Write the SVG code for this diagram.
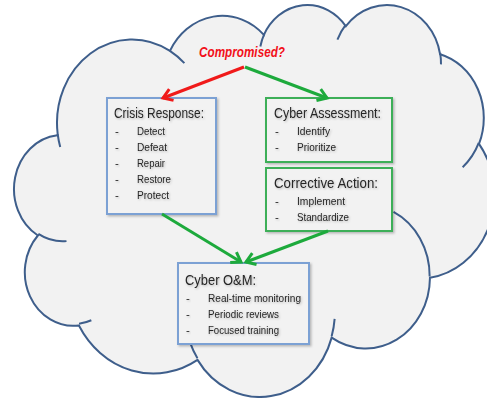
<svg xmlns="http://www.w3.org/2000/svg" width="487" height="398" viewBox="0 0 487 398">
  <defs>
    <style>
      .cloud { fill: #F2F2F2; stroke: #3E5E8B; stroke-width: 2; }
      .stub { fill: none; stroke: #3E5E8B; stroke-width: 2; }
      .box { fill: #F2F2F2; stroke-width: 2; filter: url(#boxShadow); }
      .blue { stroke: #7BA1D4; }
      .green { stroke: #3DAF58; }
      .title { font-family: "Liberation Sans", Arial, sans-serif; font-size: 15px; fill: #262626; filter: url(#txtShadow); }
      .item { font-family: "Liberation Sans", Arial, sans-serif; font-size: 11.5px; fill: #262626; filter: url(#txtShadow); }
      .q { font-family: "Liberation Sans", Arial, sans-serif; font-size: 15px; font-weight: bold; font-style: italic; fill: #F2101A; }
      .conn { fill: none; stroke-width: 3; }
    </style>
    <filter id="boxShadow" x="-10%" y="-10%" width="130%" height="130%">
      <feDropShadow dx="1.5" dy="1.5" stdDeviation="1.2" flood-color="#000" flood-opacity="0.25"/>
    </filter>
    <filter id="txtShadow" x="-10%" y="-30%" width="130%" height="180%">
      <feDropShadow dx="1" dy="1" stdDeviation="0.8" flood-color="#000" flood-opacity="0.25"/>
    </filter>
    <marker id="arrRed" markerUnits="userSpaceOnUse" markerWidth="16" markerHeight="16" viewBox="-12 -8 16 16" refX="0" refY="0" orient="auto" overflow="visible">
      <path d="M-9,-6 L0,0 L-9,6" fill="none" stroke="#F01A1A" stroke-width="3"/>
    </marker>
    <marker id="arrGreen" markerUnits="userSpaceOnUse" markerWidth="16" markerHeight="16" viewBox="-12 -8 16 16" refX="0" refY="0" orient="auto" overflow="visible">
      <path d="M-9,-6 L0,0 L-9,6" fill="none" stroke="#1DAA3C" stroke-width="3"/>
    </marker>
  </defs>

  <g id="cloud" transform="translate(14.36,3.7) scale(0.01111,0.00907)">
    <path class="cloud" vector-effect="non-scaling-stroke" d="M3900 14370 A6753 9190 0 0 1 14005 5202 A5333 7267 0 0 1 22460 3434 A4365 5945 0 0 1 29837 2483 A4857 6595 0 0 1 38322 5578 A5333 7273 0 0 1 41822 15462 A6775 9220 0 0 1 37408 30205 A5785 7867 0 0 1 28560 36816 A6752 9215 0 0 1 16486 39269 A7720 10543 0 0 1 5809 35476 A4360 5918 0 0 1 2116 25557 A4345 5945 0 0 1 3867 14514 Z"/>
    <path class="stub" vector-effect="non-scaling-stroke" d="M4693 26177 A4345 5945 0 0 1 2159 25380 M6928 34899 A4360 5918 0 0 1 5820 35280 M16478 39090 A6752 9215 0 0 1 15809 37346 M28827 34751 A6752 9215 0 0 1 28560 36660 M34129 22954 A5785 7867 0 0 1 37381 30090 M41798 15354 A5333 7273 0 0 1 40350 18030 M38324 5426 A4857 6595 0 0 1 38400 6690 M29078 3952 A4857 6595 0 0 1 29820 2340 M22141 4720 A4365 5945 0 0 1 22500 3330 M14000 5192 A6753 9190 0 0 1 15304 6546 M4127 15789 A6753 9190 0 0 1 3901 14372"/>
  </g>

  <g id="question">
    <text class="q" x="199" y="57" textLength="86" lengthAdjust="spacingAndGlyphs">Compromised?</text>
  </g>

  <g id="crisis-response">
    <rect class="box blue" x="107" y="98" width="109" height="116"/>
    <text class="title" x="114" y="118" textLength="90" lengthAdjust="spacingAndGlyphs">Crisis Response:</text>
    <text class="item" x="115" y="135">-</text>
    <text class="item" x="137" y="135" textLength="28" lengthAdjust="spacingAndGlyphs">Detect</text>
    <text class="item" x="115" y="151">-</text>
    <text class="item" x="137" y="151" textLength="30" lengthAdjust="spacingAndGlyphs">Defeat</text>
    <text class="item" x="115" y="167">-</text>
    <text class="item" x="137" y="167" textLength="28" lengthAdjust="spacingAndGlyphs">Repair</text>
    <text class="item" x="115" y="183">-</text>
    <text class="item" x="137" y="183" textLength="34" lengthAdjust="spacingAndGlyphs">Restore</text>
    <text class="item" x="115" y="199">-</text>
    <text class="item" x="137" y="199" textLength="32" lengthAdjust="spacingAndGlyphs">Protect</text>
  </g>

  <g id="cyber-assessment">
    <rect class="box green" x="266" y="98" width="126" height="64"/>
    <text class="title" x="274" y="118" textLength="107" lengthAdjust="spacingAndGlyphs">Cyber Assessment:</text>
    <text class="item" x="275" y="135">-</text>
    <text class="item" x="297" y="135" textLength="33" lengthAdjust="spacingAndGlyphs">Identify</text>
    <text class="item" x="275" y="151">-</text>
    <text class="item" x="297" y="151" textLength="39" lengthAdjust="spacingAndGlyphs">Prioritize</text>
  </g>

  <g id="corrective-action">
    <rect class="box green" x="266" y="168" width="126" height="63"/>
    <text class="title" x="274" y="188" textLength="104" lengthAdjust="spacingAndGlyphs">Corrective Action:</text>
    <text class="item" x="275" y="205">-</text>
    <text class="item" x="297" y="205" textLength="48" lengthAdjust="spacingAndGlyphs">Implement</text>
    <text class="item" x="275" y="221">-</text>
    <text class="item" x="297" y="221" textLength="52" lengthAdjust="spacingAndGlyphs">Standardize</text>
  </g>

  <g id="cyber-om">
    <rect class="box blue" x="178" y="263" width="131" height="81"/>
    <text class="title" x="185" y="285" textLength="71" lengthAdjust="spacingAndGlyphs">Cyber O&amp;M:</text>
    <text class="item" x="186" y="302">-</text>
    <text class="item" x="208" y="302" textLength="93" lengthAdjust="spacingAndGlyphs">Real-time monitoring</text>
    <text class="item" x="186" y="318">-</text>
    <text class="item" x="208" y="318" textLength="71" lengthAdjust="spacingAndGlyphs">Periodic reviews</text>
    <text class="item" x="186" y="334">-</text>
    <text class="item" x="208" y="334" textLength="71" lengthAdjust="spacingAndGlyphs">Focused training</text>
  </g>

  <g id="connectors">
    <line class="conn" x1="244" y1="67" x2="163" y2="98" stroke="#F01A1A" marker-end="url(#arrRed)"/>
    <line class="conn" x1="245" y1="67" x2="327" y2="98" stroke="#1DAA3C" marker-end="url(#arrGreen)"/>
    <line class="conn" x1="162" y1="214" x2="241" y2="262" stroke="#1DAA3C" marker-end="url(#arrGreen)"/>
    <line class="conn" x1="328" y1="231" x2="246" y2="262" stroke="#1DAA3C" marker-end="url(#arrGreen)"/>
  </g>
</svg>
